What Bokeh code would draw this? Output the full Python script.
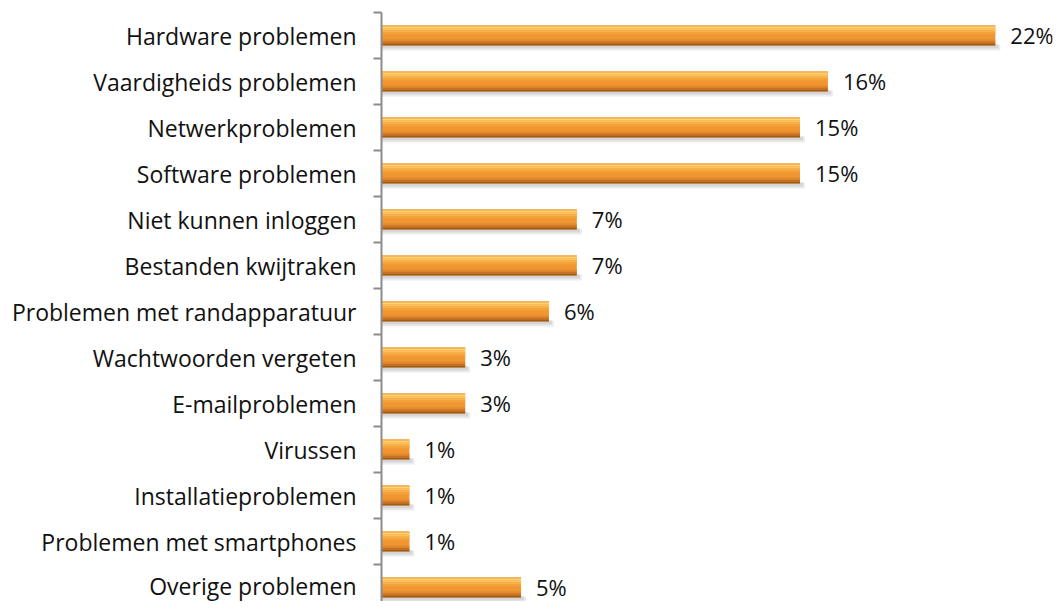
from bokeh.plotting import figure
from bokeh.models import Range1d, FixedTicker, ColumnDataSource
from bokeh.core.properties import value
from bokeh.embed import file_html
from bokeh.resources import INLINE

categories = ["Hardware problemen", "Vaardigheids problemen", "Netwerkproblemen",
              "Software problemen", "Niet kunnen inloggen", "Bestanden kwijtraken",
              "Problemen met randapparatuur", "Wachtwoorden vergeten", "E-mailproblemen",
              "Virussen", "Installatieproblemen", "Problemen met smartphones",
              "Overige problemen"]
values = [22, 16, 15, 15, 7, 7, 6, 3, 3, 1, 1, 1, 5]
labels = [f"{v}%" for v in values]

FONT = "Open Sans"
FSIZE = "23px"
PSIZE = "22px"
n = len(categories)
centers = [i + 0.5 for i in range(n)]

PX_Y = 46.0    # pixels per category
PX_X = 27.9    # pixels per percent
W, H = 1053, 601
LEFT, TOP = 381, 12

p = figure(width=W, height=H, output_backend="svg", toolbar_location=None,
           x_range=Range1d(0, (W - 1 - LEFT) / PX_X),
           y_range=Range1d((H - TOP) / PX_Y, 0),
           x_axis_location=None, min_border_left=LEFT, min_border_right=1,
           min_border_top=TOP, min_border_bottom=0)
p.outline_line_color = None
p.xgrid.visible = False
p.ygrid.visible = False
p.background_fill_color = "white"

src = ColumnDataSource(dict(y=centers, v=values, lab=labels, cat=categories))


def strip(top_px, bot_px, color, extra_px=0.0, alpha=1.0):
    off = (top_px + bot_px) / 2.0 / PX_Y
    h = (bot_px - top_px) / PX_Y
    d = dict(y=[c + off for c in centers], r=[v + extra_px / PX_X for v in values])
    p.hbar(y="y", left=0, right="r", height=h, source=ColumnDataSource(d),
           fill_color=color, line_color=None, fill_alpha=alpha)


# shadow
strip(9, 15, "#ececec", 5)
strip(9, 13, "#d6d6d6", 3)
# bar body (gradient approximated by strips)
strip(-10, 10, "#F09530")
strip(-10, -9, "#EFA035")
strip(-9, -7, "#FFD274")
strip(-7, -5, "#FCC35E")
strip(-5, -3, "#F8B148")
strip(-3, -1, "#F4A23A")
strip(4, 6, "#E08A2C")
strip(6, 8, "#C87226")
strip(8, 10, "#9E5C1E")

p.text(x="v", y="y", text="lab", source=src, x_offset=15, y_offset=-1,
       text_font=value(FONT), text_font_size=PSIZE, text_color="#111111",
       text_align="left", text_baseline="middle")

ax = p.yaxis[0]
ax.ticker = FixedTicker(ticks=centers, minor_ticks=list(range(n + 1)))
ax.major_label_overrides = {c: cat for c, cat in zip(centers, categories)}
ax.major_tick_out = 0
ax.major_tick_in = 0
ax.minor_tick_out = 8
ax.minor_tick_in = 0
ax.minor_tick_line_color = "#8c8c8c"
ax.minor_tick_line_width = 2
ax.axis_line_color = "#8c8c8c"
ax.axis_line_width = 2
ax.major_label_standoff = 17
ax.major_label_text_font = FONT
ax.major_label_text_font_size = FSIZE
ax.major_label_text_color = "#111111"

open("out.html", "w").write(file_html(p, INLINE))
